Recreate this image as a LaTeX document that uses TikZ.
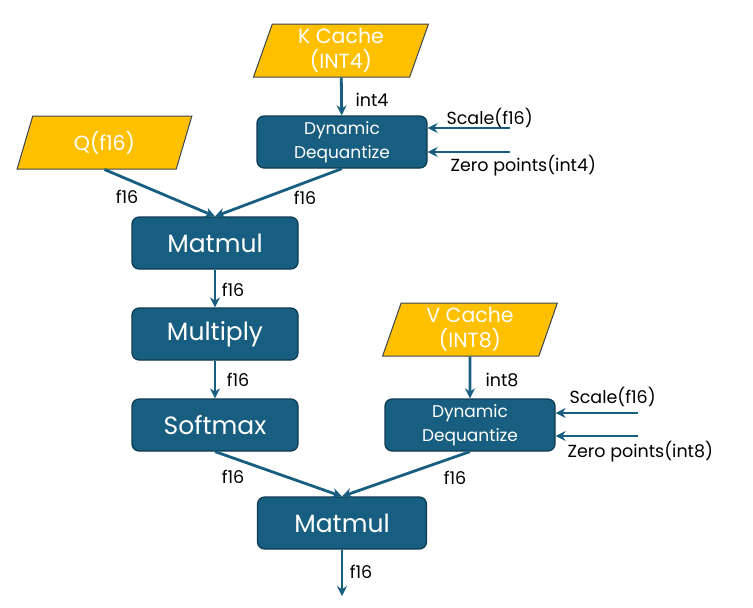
\documentclass[tikz,border=0pt]{standalone}
\usepackage{fontspec}
\setmainfont{Poppins}
\usetikzlibrary{shapes.geometric,arrows.meta}
\definecolor{opblue}{HTML}{175E80}
\definecolor{opedge}{HTML}{0E3B52}
\definecolor{datayellow}{HTML}{FFC000}
\definecolor{dataedge}{HTML}{3A4650}

\begin{document}
\begin{tikzpicture}[x=1pt, y=-1pt,
  op/.style={draw=opedge, line width=1.2pt, fill=opblue, rounded corners=7pt, text=white,
    minimum width=166pt, minimum height=52pt, font=\fontsize{25}{28}\selectfont},
  dq/.style={op, minimum width=170pt, align=center, font=\fontsize{17}{24}\selectfont},
  data/.style={trapezium, trapezium left angle=76, trapezium right angle=104, trapezium stretches=true,
    draw=dataedge, line width=1pt, fill=datayellow, text=white, align=center,
    minimum width=175pt, minimum height=53pt, font=\fontsize{20.5}{25}\selectfont},
  flow/.style={draw=opblue, line width=2.8pt, -{Stealth[length=10pt, width=10pt]}},
  lbl/.style={font=\fontsize{17.5}{20}\selectfont}]
\useasboundingbox (0,0) rectangle (753,608);

% inputs and operations
\node[data] (kc) at (341, 50.5) {K Cache\\(INT4)};
\node[dq] (kdq) at (342, 142) {Dynamic\\Dequantize};
\node[data] (q) at (104.5, 142.5) {Q(f16)};
\node[op] (mm1) at (215, 243) {Matmul};
\node[op] (mul) at (215, 334) {Multiply};
\node[op] (sm) at (215, 425) {Softmax};
\node[data] (vc) at (470, 329.5) {V Cache\\(INT8)};
\node[dq] (vdq) at (470, 425) {Dynamic\\Dequantize};
\node[op, minimum width=169pt] (mm2) at (342, 523) {Matmul};

% side inputs of the dequantize steps
\coordinate (ks) at (510, 128);
\coordinate (kz) at (510, 152);
\coordinate (vs) at (638, 413);
\coordinate (vz) at (638, 436);
\coordinate (out) at (342, 596);

\draw[flow] (kc) -- (kdq);
\draw[flow] (ks) -- (kdq.east |- ks);
\draw[flow] (kz) -- (kdq.east |- kz);
\draw[flow] (q.south) -- (mm1.north);
\draw[flow] (kdq.south) -- (mm1.north);
\draw[flow] (mm1) -- (mul);
\draw[flow] (mul) -- (sm);
\draw[flow] (vc) -- (vdq);
\draw[flow] (vs) -- (vdq.east |- vs);
\draw[flow] (vz) -- (vdq.east |- vz);
\draw[flow] (sm.south) -- (mm2.north);
\draw[flow] (vdq.south) -- (mm2.north);
\draw[flow] (mm2) -- (out);

% labels
\node[lbl, anchor=west] (kslbl) at (443, 118) {Scale(f16)};
\node[lbl, anchor=west] (kzlbl) at (447, 166) {Zero points(int4)};
\node[lbl, anchor=west] (vslbl) at (566, 397) {Scale(f16)};
\node[lbl, anchor=west] (vzlbl) at (564, 452) {Zero points(int8)};
\node[lbl] (l1) at (372, 100) {int4};
\node[lbl] (l2) at (127, 197) {f16};
\node[lbl] (l3) at (305, 198) {f16};
\node[lbl] (l4) at (233, 290) {f16};
\node[lbl] (l5) at (238, 380) {f16};
\node[lbl] (l6) at (502, 380) {int8};
\node[lbl] (l7) at (233, 477) {f16};
\node[lbl] (l8) at (455, 478) {f16};
\node[lbl] (l9) at (361, 572) {f16};
\end{tikzpicture}
\end{document}
